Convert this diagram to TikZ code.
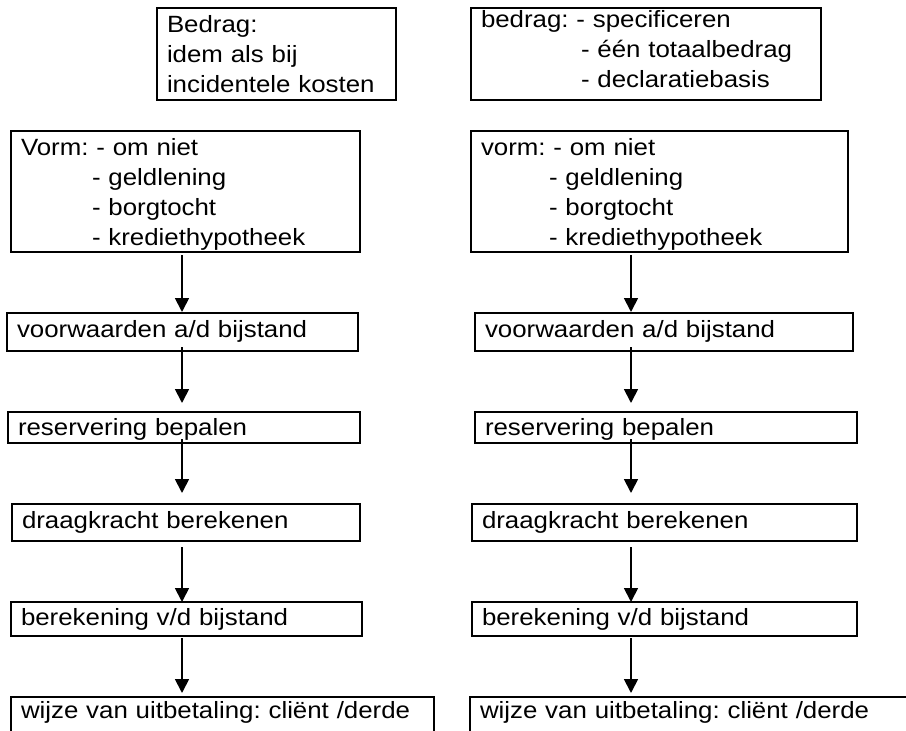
\documentclass[tikz,border=0pt]{standalone}
\usepackage{fontspec}
\setmainfont{Liberation Sans}[FakeStretch=1.1]
\frenchspacing
\usetikzlibrary{arrows.meta}

\tikzset{
	blok/.style={draw, line width=1.8pt, anchor=north west, inner xsep=10pt, inner ysep=0pt, outer sep=0pt,
		align=left, font=\fontsize{23.5pt}{30pt}\selectfont},
	pijl/.style={-{Triangle[width=14pt, length=14pt]}, line width=1.8pt},
}

\begin{document}
\begin{tikzpicture}[x=1pt, y=-1pt]
		\useasboundingbox (0, 0) rectangle (906, 731);

		% linker kolom
		\node[blok, text width=219pt, text height=24pt, text depth=68pt] (bedragL) at (157, 8)
			{Bedrag:\\idem als bij\\incidentele kosten};
		\node[blok, text width=329pt, text height=24pt, text depth=97pt] (vormL) at (11, 131)
			{Vorm: - om niet\\\hspace*{71pt}- geldlening\\\hspace*{71pt}- borgtocht\\\hspace*{71pt}- krediethypotheek};
		\node[blok, text width=331pt, text height=24pt, text depth=14pt] (voorwL) at (7, 313) {voorwaarden a/d bijstand};
		\node[blok, text width=332pt, text height=23pt, text depth=8pt] (reservL) at (8, 412) {reservering bepalen};
		\node[blok, text width=328pt, text height=24pt, text depth=13pt] (draagL) at (12, 504) {draagkracht berekenen};
		\node[blok, text width=331pt, text height=23pt, text depth=11pt] (berekL) at (11, 602) {berekening v/d bijstand};
		\node[blok, text width=403pt, text height=21pt, text depth=39pt] (wijzeL) at (11, 697) {wijze van uitbetaling: cliënt /derde};

		% rechter kolom
		\node[blok, text width=330pt, text height=19pt, text depth=73pt] (bedragR) at (471, 8)
			{bedrag: - specificeren\\\hspace*{100pt}- één totaalbedrag\\\hspace*{100pt}- declaratiebasis};
		\node[blok, text width=357pt, text height=24pt, text depth=97pt] (vormR) at (471, 131)
			{vorm: - om niet\\\hspace*{68pt}- geldlening\\\hspace*{68pt}- borgtocht\\\hspace*{68pt}- krediethypotheek};
		\node[blok, text width=358pt, text height=24pt, text depth=14pt] (voorwR) at (475, 313) {voorwaarden a/d bijstand};
		\node[blok, text width=362pt, text height=23pt, text depth=8pt] (reservR) at (475, 412) {reservering bepalen};
		\node[blok, text width=365pt, text height=24pt, text depth=13pt] (draagR) at (472, 504) {draagkracht berekenen};
		\node[blok, text width=365pt, text height=23pt, text depth=11pt] (berekR) at (472, 602) {berekening v/d bijstand};
		\node[blok, text width=460pt, text height=21pt, text depth=39pt] (wijzeR) at (470, 697) {wijze van uitbetaling: cliënt /derde};

		\coordinate (asL) at (182, 0);
		\coordinate (asR) at (631, 0);

		\draw[pijl, shorten <=3pt, shorten >=1pt]	(vormL.south -| asL) to (voorwL.north -| asL);
		\draw[pijl, shorten <=-4pt, shorten >=9pt]	(voorwL.south -| asL) to (reservL.north -| asL);
		\draw[pijl, shorten <=-4pt, shorten >=11pt]	(reservL.south -| asL) to (draagL.north -| asL);
		\draw[pijl, shorten <=6pt]					(draagL.south -| asL) to (berekL.north -| asL);
		\draw[pijl, shorten <=2pt, shorten >=4pt]	(berekL.south -| asL) to (wijzeL.north -| asL);

		\draw[pijl, shorten <=3pt, shorten >=1pt]	(vormR.south -| asR) to (voorwR.north -| asR);
		\draw[pijl, shorten <=-4pt, shorten >=9pt]	(voorwR.south -| asR) to (reservR.north -| asR);
		\draw[pijl, shorten <=-4pt, shorten >=11pt]	(reservR.south -| asR) to (draagR.north -| asR);
		\draw[pijl, shorten <=6pt]					(draagR.south -| asR) to (berekR.north -| asR);
		\draw[pijl, shorten <=2pt, shorten >=4pt]	(berekR.south -| asR) to (wijzeR.north -| asR);
	\end{tikzpicture}
\end{document}
